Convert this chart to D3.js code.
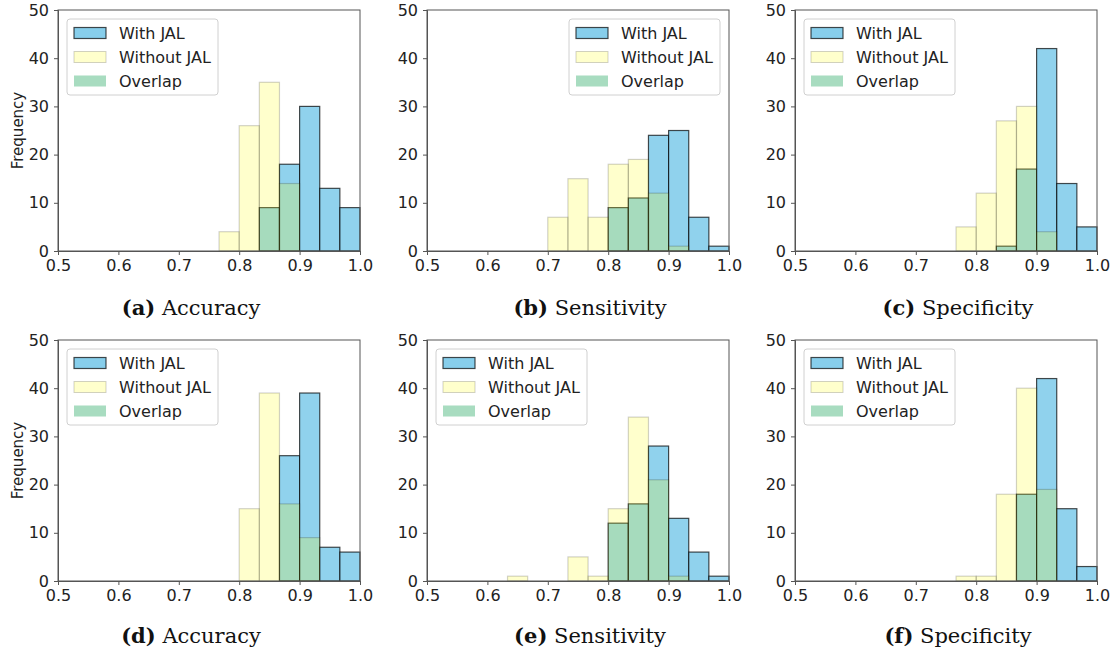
<!DOCTYPE html>
<html lang="en">
<head>
  <meta charset="UTF-8">
  <title>With / Without JAL histograms</title>
  <script src="https://d3js.org/d3.v7.min.js"></script>
  <style>
    body { margin: 0; background: #fff; }
    .tick text { font-family: "DejaVu Sans", sans-serif; font-size: 16px; fill: #222; }
  </style>
</head>
<body>
<svg id="chart" width="1112" height="654"></svg>
<script>
// 15 bins of width 1/30 between 0.5 and 1.0
const binEdges = d3.range(16).map(i => 0.5 + i / 30);
const xTicks = [0.5, 0.6, 0.7, 0.8, 0.9, 1.0];
const yTicks = [0, 10, 20, 30, 40, 50];
const seriesNames = ["With JAL", "Without JAL", "Overlap"];

// counts per bin, panels a..f
const withA    = [0,0,0,0,0,0,0,0,0,0,9,18,30,13,9];
const withoutA = [0,0,0,0,0,0,0,0,4,26,35,14,0,0,0];
const withB    = [0,0,0,0,0,0,0,0,0,9,11,24,25,7,1];
const withoutB = [0,0,0,0,0,0,7,15,7,18,19,12,1,0,0];
const withC    = [0,0,0,0,0,0,0,0,0,0,1,17,42,14,5];
const withoutC = [0,0,0,0,0,0,0,0,5,12,27,30,4,0,0];
const withD    = [0,0,0,0,0,0,0,0,0,0,0,26,39,7,6];
const withoutD = [0,0,0,0,0,0,0,0,0,15,39,16,9,0,0];
const withE    = [0,0,0,0,0,0,0,0,0,12,16,28,13,6,1];
const withoutE = [0,0,0,0,1,0,0,5,1,15,34,21,1,0,0];
const withF    = [0,0,0,0,0,0,0,0,0,0,0,18,42,15,3];
const withoutF = [0,0,0,0,0,0,0,0,1,1,18,40,19,0,0];

const panelTags  = ["(a)", "(b)", "(c)", "(d)", "(e)", "(f)"];
const panelNames = ["Accuracy", "Sensitivity", "Specificity", "Accuracy", "Sensitivity", "Specificity"];

const panels = [
  {w: withA, wo: withoutA, col: 0, row: 0, legend: "left",  ylab: true},
  {w: withB, wo: withoutB, col: 1, row: 0, legend: "right", ylab: false},
  {w: withC, wo: withoutC, col: 2, row: 0, legend: "left",  ylab: false},
  {w: withD, wo: withoutD, col: 0, row: 1, legend: "left",  ylab: true},
  {w: withE, wo: withoutE, col: 1, row: 1, legend: "left",  ylab: false},
  {w: withF, wo: withoutF, col: 2, row: 1, legend: "left",  ylab: false}
];

const colLeft = [58, 427, 795];
const rowTop = [10, 340];
const capX = [191, 590, 958];
const capY = [315, 643];
const pw = 302, ph = 241;

const blue = "#87ceeb", yellow = "#ffff00", green = "#a8dcc0";

const svg = d3.select("#chart");

panels.forEach((p, idx) => {
  const g = svg.append("g")
    .attr("transform", `translate(${colLeft[p.col]},${rowTop[p.row]})`);

  const x = d3.scaleLinear().domain([0.5, 1.0]).range([0, pw]);
  const y = d3.scaleLinear().domain([0, 50]).range([ph, 0]);

  const bins = d3.range(15).map(i => ({x0: binEdges[i], x1: binEdges[i + 1], w: p.w[i], wo: p.wo[i]}));

  // With JAL
  g.selectAll("rect.with").data(bins.filter(d => d.w > 0)).enter()
    .append("rect").attr("class", "with")
    .attr("x", d => x(d.x0)).attr("width", d => x(d.x1) - x(d.x0))
    .attr("y", d => y(d.w)).attr("height", d => y(0) - y(d.w))
    .attr("fill", blue).attr("fill-opacity", 0.92)
    .attr("stroke", "#000").attr("stroke-opacity", 0.7).attr("stroke-width", 1.2);

  // Without JAL, translucent yellow on top (blends to green where they overlap)
  g.selectAll("rect.without").data(bins.filter(d => d.wo > 0)).enter()
    .append("rect").attr("class", "without")
    .attr("x", d => x(d.x0)).attr("width", d => x(d.x1) - x(d.x0))
    .attr("y", d => y(d.wo)).attr("height", d => y(0) - y(d.wo))
    .attr("fill", yellow).attr("fill-opacity", 0.2)
    .attr("stroke", "#000").attr("stroke-opacity", 0.18).attr("stroke-width", 1.2);

  // frame
  g.append("rect").attr("width", pw).attr("height", ph)
    .attr("fill", "none").attr("stroke", "#555").attr("stroke-width", 1);

  const xAxis = d3.axisBottom(x).tickValues(xTicks).tickFormat(d3.format(".1f")).tickSize(4).tickPadding(5);
  const yAxis = d3.axisLeft(y).tickValues(yTicks).tickSize(4).tickPadding(5);
  const gx = g.append("g").attr("transform", `translate(0,${ph})`).call(xAxis);
  const gy = g.append("g").call(yAxis);
  [gx, gy].forEach(a => {
    a.select(".domain").attr("stroke", "#555");
    a.selectAll(".tick line").attr("stroke", "#555");
  });

  if (p.ylab) {
    g.append("text")
      .attr("transform", `translate(${-35},${ph / 2}) rotate(-90)`)
      .attr("text-anchor", "middle")
      .style("font-family", "DejaVu Sans, sans-serif").style("font-size", "15px").attr("fill", "#222")
      .text("Frequency");
  }

  // legend
  const lw = 151, lh = 76;
  const lx = p.legend === "left" ? 9 : pw - 9 - lw;
  const lg = g.append("g").attr("transform", `translate(${lx},9)`);
  lg.append("rect").attr("width", lw).attr("height", lh).attr("rx", 3)
    .attr("fill", "#fff").attr("fill-opacity", 0.8).attr("stroke", "#d0d0d0");
  seriesNames.forEach((name, i) => {
    const cy = 14 + i * 24;
    const sw = lg.append("rect").attr("x", 7).attr("y", cy - 5.5).attr("width", 32).attr("height", 11);
    if (i === 0) sw.attr("fill", blue).attr("stroke", "#000").attr("stroke-opacity", 0.7).attr("stroke-width", 1.2);
    else if (i === 1) sw.attr("fill", yellow).attr("fill-opacity", 0.2).attr("stroke", "#000").attr("stroke-opacity", 0.18);
    else sw.attr("fill", green);
    lg.append("text").attr("x", 52).attr("y", cy + 6)
      .style("font-family", "DejaVu Sans, sans-serif").style("font-size", "16px").attr("fill", "#222")
      .text(name);
  });

  // caption
  const cap = svg.append("text")
    .attr("x", capX[p.col]).attr("y", capY[p.row]).attr("text-anchor", "middle")
    .style("font-family", "DejaVu Serif, serif").style("font-size", "21px").attr("fill", "#111");
  cap.append("tspan").style("font-weight", "bold").text(panelTags[idx]);
  cap.append("tspan").text(" " + panelNames[idx]);
});
</script>
</body>
</html>
